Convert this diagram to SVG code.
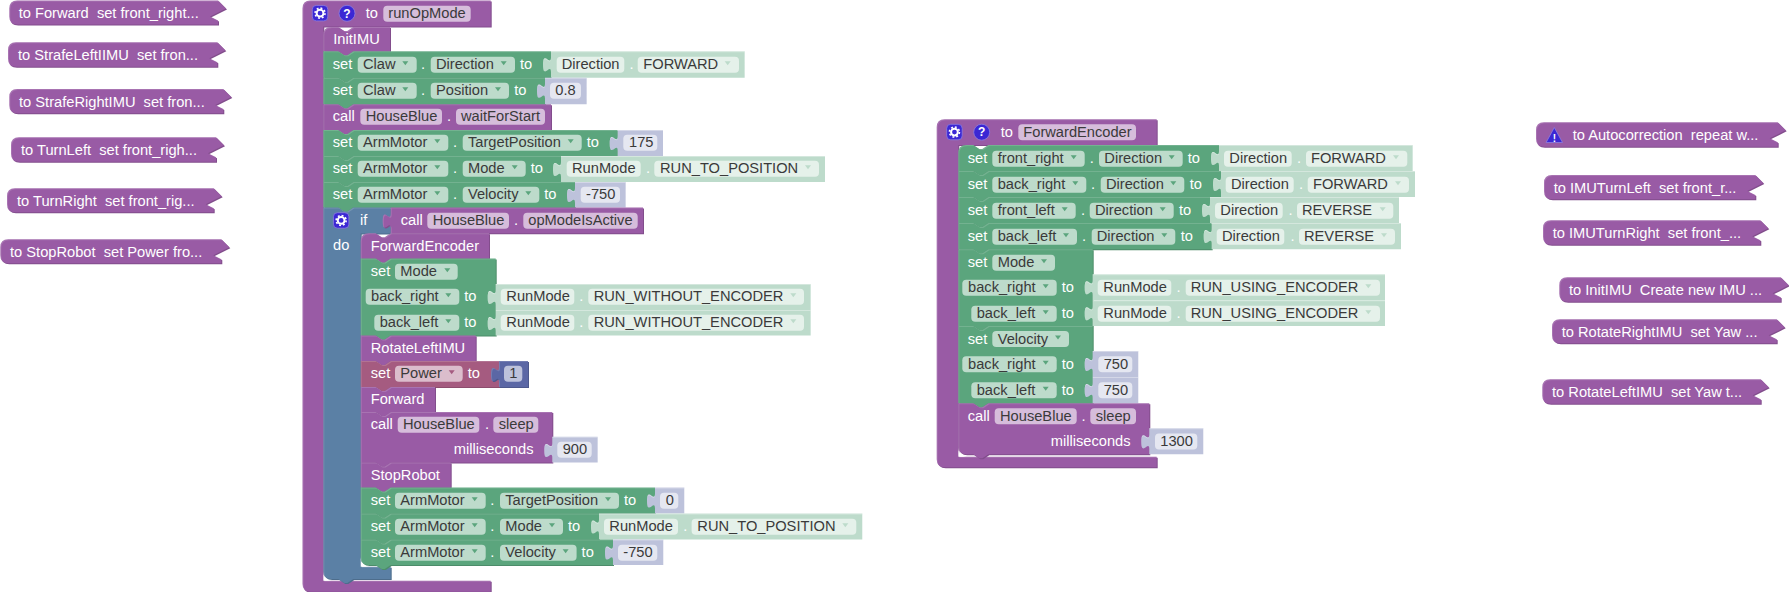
<svg xmlns="http://www.w3.org/2000/svg" width="1789" height="592" viewBox="0 0 1789 592">
<style>
text{font-family:"Liberation Sans",Arial,sans-serif;font-size:14.67px;white-space:pre}
.t{fill:#fff}.d{fill:#3a3a3a}
path.b{filter:url(#e)}
path.l,path.v{filter:url(#h)}
.p{fill:#995ba5}.g{fill:#5ba57d}.l{fill:#bddbcb}.v{fill:#bdc2db}.n{fill:#5b67a5}.r{fill:#a55b80}.u{fill:#5b80a5}
rect{height:16px;rx:4px;ry:4px}
.pp{fill:#d6bddb}.pg{fill:#bddbcb}.pl{fill:#e5f1ea}.pv{fill:#e5e7f1}.pn{fill:#bdc2db}.pr{fill:#dbbdcc}
.ag{fill:#5ba57d}.al{fill:#bddbcb}.ar{fill:#a55b80}
.ic{fill:#3b27d4;stroke:#8e7fe0;stroke-width:.8}
</style>
<defs>
<filter id="e" x="-10%" y="-10%" width="120%" height="125%" color-interpolation-filters="sRGB">
<feOffset in="SourceGraphic" dx="1" dy="1" result="o"/>
<feColorMatrix in="o" type="matrix" values=".85 0 0 0 0 0 .85 0 0 0 0 0 .85 0 0 0 0 0 1 0" result="dark"/>
<feOffset in="SourceAlpha" dx="1" dy="1" result="oa"/>
<feComposite in="SourceAlpha" in2="oa" operator="out" result="edge"/>
<feFlood flood-color="#fff" flood-opacity=".15"/>
<feComposite in2="edge" operator="in" result="hl"/>
<feMerge><feMergeNode in="dark"/><feMergeNode in="SourceGraphic"/><feMergeNode in="hl"/></feMerge>
</filter>
<filter id="h" x="-10%" y="-10%" width="120%" height="125%" color-interpolation-filters="sRGB">
<feOffset in="SourceAlpha" dx="0" dy="1" result="oa"/>
<feComposite in="SourceAlpha" in2="oa" operator="out" result="edge"/>
<feFlood flood-color="#fff" flood-opacity=".35"/>
<feComposite in2="edge" operator="in" result="hl"/>
<feMerge><feMergeNode in="SourceGraphic"/><feMergeNode in="hl"/></feMerge>
</filter>
<path id="a" d="M-3,-2h6l-3,4z"/>
<g id="gear">
<rect x="0" y="0" width="15.5" height="15.5" style="height:15.5px" fill="#3b27d4" stroke="#8e7fe0" stroke-width=".8"/>
<circle cx="7.75" cy="7.75" r="3.4" fill="none" stroke="#fff" stroke-width="2"/>
<circle cx="7.75" cy="7.75" r="5" fill="none" stroke="#fff" stroke-width="1.6" stroke-dasharray="1.9 2"/>
</g>
<g id="help"><circle r="8" class="ic"/><text x="0" y="4.2" text-anchor="middle" class="t" style="font-size:12px;font-weight:bold">?</text></g>
</defs>

<g id="stray-forward"><path class="b p" d="M17.3,.5H218l8,8-16,8 8,4V24.6H17.3q-8,0-8-8V8.5q0-8 8-8z"/><text class="t" x="18.7" y="18">to Forward  set front_right...</text></g>
<g id="stray-strafeleft"><path class="b p" d="M16,42.3H217.3l8,8-16,8 8,4v4.4H16q-8,0-8-8V50.3q0-8 8-8z"/><text class="t" x="18" y="60">to StrafeLeftIIMU  set fron...</text></g>
<g id="stray-straferight"><path class="b p" d="M17.3,89H223.3l8,8-16,8 8,4v4.3H17.3q-8,0-8-8V97q0-8 8-8z"/><text class="t" x="19" y="107">to StrafeRightIMU  set fron...</text></g>
<g id="stray-turnleft"><path class="b p" d="M19,137.3H216l8,8-16,8 8,4v4.4H19q-8,0-8-8V145.3q0-8 8-8z"/><text class="t" x="21" y="155">to TurnLeft  set front_righ...</text></g>
<g id="stray-turnright"><path class="b p" d="M15,188.3H213.7l8,8-16,8 8,4v4H15q-8,0-8-8V196.3q0-8 8-8z"/><text class="t" x="17" y="206">to TurnRight  set front_rig...</text></g>
<g id="stray-stoprobot"><path class="b p" d="M8.3,239.3H221.3l8,8-16,8 8,4v4H8.3q-8,0-8-8V247.3q0-8 8-8z"/><text class="t" x="10" y="257">to StopRobot  set Power fro...</text></g>

<g id="stray-autocorrection"><path class="b p" d="M1544,122.3H1777.7l8,8-16,8 8,4v4.4H1544q-8,0-8-8V130.3q0-8 8-8z"/>
<path d="M1554.3,127.5l8.2,15h-16.4z" fill="#3b27d4" stroke="#8e7fe0" stroke-width=".8" stroke-linejoin="round"/><text class="t" x="1554.3" y="141.5" text-anchor="middle" style="font-size:10px;font-weight:bold">!</text>
<text class="t" x="1572.7" y="140">to Autocorrection  repeat w...</text></g>
<g id="stray-imuturnleft"><path class="b p" d="M1552,175H1755.3l8,8-16,8 8,4v4.3H1552q-8,0-8-8V183q0-8 8-8z"/><text class="t" x="1553.7" y="193">to IMUTurnLeft  set front_r...</text></g>
<g id="stray-imuturnright"><path class="b p" d="M1551,220.3H1760.3l8,8-16,8 8,4v4.4H1551q-8,0-8-8V228.3q0-8 8-8z"/><text class="t" x="1552.7" y="238">to IMUTurnRight  set front_...</text></g>
<g id="stray-initimu"><path class="b p" d="M1567.3,277.3H1780.7l8,8-16,8 8,4v4.4H1567.3q-8,0-8-8V285.3q0-8 8-8z"/><text class="t" x="1569" y="295">to InitIMU  Create new IMU ...</text></g>
<g id="stray-rotateright"><path class="b p" d="M1560,319.3H1776.7l8,8-16,8 8,4v4H1560q-8,0-8-8V327.3q0-8 8-8z"/><text class="t" x="1561.7" y="337">to RotateRightIMU  set Yaw ...</text></g>
<g id="stray-rotateleft"><path class="b p" d="M1550.3,379.3H1760.7l8,8-16,8 8,4v4.4H1550.3q-8,0-8-8V387.3q0-8 8-8z"/><text class="t" x="1552" y="397">to RotateLeftIMU  set Yaw t...</text></g>

<g id="func-runOpMode">
<path class="b p" d="M310.5,.5H490.7V26.5H323.3V580.7H490.7V591.7H310.5q-8,0-8-8V8.5q0-8 8-8z"/>
<path d="M323.3,571V580.7H331.3Q323.3,580 323.3,571z" fill="#fff"/>
<use href="#gear" x="312.3" y="5.4"/><use href="#help" x="347" y="13.3"/>
<text class="t" x="365.7" y="18">to</text>
<rect class="pp" x="383.3" y="5.7" width="87.4"/><text class="d" x="388.3" y="18">runOpMode</text>

<g id="m-initimu"><path class="b p" d="M323.3,35q0-8 8-8h7l6,4h3l6-4H390V51.3H353.3l-6,4h-3l-6-4H323.3z"/><text class="t" x="333.3" y="44">InitIMU</text></g>

<g id="m-claw-direction"><path class="b g" d="M323.3,51.3h15l6,4h3l6-4H551V77.7H353.3l-6,4h-3l-6-4H323.3z"/>
<path class="b l" d="M551,51.3H744.7V77.7H551V72.3c0-10-8,8-8-7.5s8,2.5 8-7.5z"/>
<text class="t" x="332.7" y="69">set</text>
<rect class="pg" x="357.7" y="56.7" width="59"/><text class="d" x="363" y="69">Claw</text><use href="#a" class="ag" x="405.3" y="63.3"/>
<text class="t" x="421" y="69">.</text>
<rect class="pg" x="430.7" y="56.7" width="84.3"/><text class="d" x="436" y="69">Direction</text><use href="#a" class="ag" x="503.7" y="63.3"/>
<text class="t" x="520" y="69">to</text>
<rect class="pl" x="556.7" y="56.7" width="67.6"/><text class="d" x="561.7" y="69">Direction</text><text class="t" x="629.5" y="69">.</text>
<rect class="pl" x="637.7" y="56.7" width="101.3"/><text class="d" x="643.3" y="69">FORWARD</text><use href="#a" class="al" x="727.7" y="63.3"/></g>

<g id="m-claw-position"><path class="b g" d="M323.3,77.7h15l6,4h3l6-4H545V104.3H353.3l-6,4h-3l-6-4H323.3z"/>
<path class="b v" d="M545,77.7H586.7V104.3H545V98.7c0-10-8,8-8-7.5s8,2.5 8-7.5z"/>
<text class="t" x="332.7" y="95">set</text>
<rect class="pg" x="357.7" y="82.7" width="59"/><text class="d" x="363" y="95">Claw</text><use href="#a" class="ag" x="405.3" y="89.3"/>
<text class="t" x="421" y="95">.</text>
<rect class="pg" x="430.7" y="82.7" width="78.3"/><text class="d" x="436" y="95">Position</text><use href="#a" class="ag" x="498" y="89.3"/>
<text class="t" x="514.3" y="95">to</text>
<rect class="pv" x="550" y="82.7" width="31"/><text class="d" x="555.3" y="95">0.8</text></g>

<g id="m-waitforstart"><path class="b p" d="M323.3,104.3h15l6,4h3l6-4H551V130H353.3l-6,4h-3l-6-4H323.3z"/>
<text class="t" x="332.7" y="121">call</text>
<rect class="pp" x="360.3" y="108.7" width="81.7"/><text class="d" x="365.7" y="121">HouseBlue</text><text class="t" x="447" y="121">.</text>
<rect class="pp" x="456" y="108.7" width="89"/><text class="d" x="461" y="121">waitForStart</text></g>

<g id="m-arm-target"><path class="b g" d="M323.3,130h15l6,4h3l6-4H617.7V156H353.3l-6,4h-3l-6-4H323.3z"/>
<path class="b v" d="M617.7,130H663V156H617.7V151c0-10-8,8-8-7.5s8,2.5 8-7.5z"/>
<text class="t" x="332.7" y="147">set</text>
<rect class="pg" x="357.7" y="134.7" width="90.6"/><text class="d" x="363" y="147">ArmMotor</text><use href="#a" class="ag" x="437.3" y="141.3"/>
<text class="t" x="453" y="147">.</text>
<rect class="pg" x="462.7" y="134.7" width="119"/><text class="d" x="468" y="147">TargetPosition</text><use href="#a" class="ag" x="570.7" y="141.3"/>
<text class="t" x="586.7" y="147">to</text>
<rect class="pv" x="623.3" y="134.7" width="34"/><text class="d" x="629" y="147">175</text></g>

<g id="m-arm-mode"><path class="b g" d="M323.3,156h15l6,4h3l6-4H561V182H353.3l-6,4h-3l-6-4H323.3z"/>
<path class="b l" d="M561,156H825V182H561V177c0-10-8,8-8-7.5s8,2.5 8-7.5z"/>
<text class="t" x="332.7" y="173">set</text>
<rect class="pg" x="357.7" y="160.7" width="90.6"/><text class="d" x="363" y="173">ArmMotor</text><use href="#a" class="ag" x="437.3" y="167.3"/>
<text class="t" x="453" y="173">.</text>
<rect class="pg" x="462.7" y="160.7" width="63"/><text class="d" x="468" y="173">Mode</text><use href="#a" class="ag" x="514.7" y="167.3"/>
<text class="t" x="530.7" y="173">to</text>
<rect class="pl" x="566.7" y="160.7" width="74"/><text class="d" x="572" y="173">RunMode</text><text class="t" x="646" y="173">.</text>
<rect class="pl" x="654.3" y="160.7" width="164.7"/><text class="d" x="660" y="173">RUN_TO_POSITION</text><use href="#a" class="al" x="808" y="167.3"/></g>

<g id="m-arm-velocity"><path class="b g" d="M323.3,182h15l6,4h3l6-4H575V207.5H353.3l-6,4h-3l-6-4H323.3z"/>
<path class="b v" d="M575,182H625.7V207.5H575V203c0-10-8,8-8-7.5s8,2.5 8-7.5z"/>
<text class="t" x="332.7" y="199">set</text>
<rect class="pg" x="357.7" y="186.7" width="90.6"/><text class="d" x="363" y="199">ArmMotor</text><use href="#a" class="ag" x="437.3" y="193.3"/>
<text class="t" x="453" y="199">.</text>
<rect class="pg" x="462.7" y="186.7" width="76.6"/><text class="d" x="468" y="199">Velocity</text><use href="#a" class="ag" x="528.3" y="193.3"/>
<text class="t" x="544.3" y="199">to</text>
<rect class="pv" x="580.7" y="186.7" width="39.3"/><text class="d" x="586" y="199">-750</text></g>

<g id="m-if">
<path class="b u" d="M323.3,207.5h15l6,4h3l6-4H390.7V233.5H360.7V566.7H390.7V579H353.3l-6,4h-3l-6-4H331.3q-8,0-8-8z"/>
<path d="M360.7,557V566.7H368.7Q360.7,566 360.7,557z" fill="#fff"/>
<path class="b p" d="M390.7,207.5H643V233.3H390.7V228.5c0-10-8,8-8-7.5s8,2.5 8-7.5z"/>
<use href="#gear" x="333.4" y="212.7"/>
<text class="t" x="360" y="225">if</text><text class="t" x="333" y="250">do</text>
<text class="t" x="400.7" y="225">call</text>
<rect class="pp" x="427.3" y="212.7" width="81.7"/><text class="d" x="432.7" y="225">HouseBlue</text><text class="t" x="514" y="225">.</text>
<rect class="pp" x="523.3" y="212.7" width="114.4"/><text class="d" x="528.3" y="225">opModeIsActive</text>

<g id="m-forwardencoder"><path class="b p" d="M360.7,241.3q0-8 8-8h7l6,4h3l6-4H489V258.5H390.7l-6,4h-3l-6-4H360.7z"/><text class="t" x="370.7" y="251">ForwardEncoder</text></g>

<g id="m-setmode"><path class="b g" d="M360.7,258.5h15l6,4h3l6-4H495.7V335.5H390.7l-6,4h-3l-6-4H360.7z"/>
<path class="b l" d="M495.7,284H810.7V310H495.7V305c0-10-8,8-8-7.5s8,2.5 8-7.5z"/>
<path class="b l" d="M495.7,310H810.7V335.5H495.7V331c0-10-8,8-8-7.5s8,2.5 8-7.5z"/>
<text class="t" x="370.7" y="276">set</text>
<rect class="pg" x="395" y="263.7" width="62.7"/><text class="d" x="400.3" y="276">Mode</text><use href="#a" class="ag" x="447.3" y="270.3"/>
<rect class="pg" x="365.7" y="288.7" width="93.6"/><text class="d" x="371" y="301">back_right</text><use href="#a" class="ag" x="448.3" y="295.3"/>
<text class="t" x="464.3" y="301">to</text>
<rect class="pl" x="500.7" y="288.7" width="73.6"/><text class="d" x="506.3" y="301">RunMode</text><text class="t" x="579.3" y="301">.</text>
<rect class="pl" x="588.3" y="288.7" width="215.7"/><text class="d" x="593.7" y="301">RUN_WITHOUT_ENCODER</text><use href="#a" class="al" x="793.3" y="295.3"/>
<rect class="pg" x="374.3" y="314.7" width="85"/><text class="d" x="379.7" y="327">back_left</text><use href="#a" class="ag" x="448.3" y="321.3"/>
<text class="t" x="464.3" y="327">to</text>
<rect class="pl" x="500.7" y="314.7" width="73.6"/><text class="d" x="506.3" y="327">RunMode</text><text class="t" x="579.3" y="327">.</text>
<rect class="pl" x="588.3" y="314.7" width="215.7"/><text class="d" x="593.7" y="327">RUN_WITHOUT_ENCODER</text><use href="#a" class="al" x="793.3" y="321.3"/></g>

<g id="m-rotateleft"><path class="b p" d="M360.7,335.5h15l6,4h3l6-4H475.7V361H390.7l-6,4h-3l-6-4H360.7z"/><text class="t" x="370.7" y="353">RotateLeftIMU</text></g>

<g id="m-setpower"><path class="b r" d="M360.7,361h15l6,4h3l6-4H499V387H390.7l-6,4h-3l-6-4H360.7z"/>
<path class="b n" d="M499,361H528V387H499V382c0-10-8,8-8-7.5s8,2.5 8-7.5z"/>
<text class="t" x="370.7" y="378">set</text>
<rect class="pr" x="395" y="365.7" width="67.7"/><text class="d" x="400.3" y="378">Power</text><use href="#a" class="ar" x="451.7" y="372.3"/>
<text class="t" x="467.7" y="378">to</text>
<rect class="pn" x="504" y="365.7" width="18.3"/><text class="d" x="509.3" y="378">1</text></g>

<g id="m-forward"><path class="b p" d="M360.7,387h15l6,4h3l6-4H435V412H390.7l-6,4h-3l-6-4H360.7z"/><text class="t" x="370.7" y="404">Forward</text></g>

<g id="m-sleep"><path class="b p" d="M360.7,412h15l6,4h3l6-4H552.3V462.5H390.7l-6,4h-3l-6-4H360.7z"/>
<path class="b v" d="M552.3,436.7H597.7V462.5H552.3V458c0-10-8,8-8-7.5s8,2.5 8-7.5z"/>
<text class="t" x="370.7" y="429">call</text>
<rect class="pp" x="397.7" y="416.7" width="81.6"/><text class="d" x="403" y="429">HouseBlue</text><text class="t" x="485" y="429">.</text>
<rect class="pp" x="493.3" y="416.7" width="45"/><text class="d" x="498.7" y="429">sleep</text>
<text class="t" x="453.7" y="454">milliseconds</text>
<rect class="pv" x="557.3" y="441.7" width="34.4"/><text class="d" x="562.7" y="454">900</text></g>

<g id="m-stoprobot"><path class="b p" d="M360.7,462.5h15l6,4h3l6-4H450.7V487.5H390.7l-6,4h-3l-6-4H360.7z"/><text class="t" x="370.7" y="480">StopRobot</text></g>

<g id="m-arm-target2"><path class="b g" d="M360.7,487.5h15l6,4h3l6-4H655V513.5H390.7l-6,4h-3l-6-4H360.7z"/>
<path class="b v" d="M655,487.5H684.3V513.5H655V508.5c0-10-8,8-8-7.5s8,2.5 8-7.5z"/>
<text class="t" x="370.7" y="505">set</text>
<rect class="pg" x="395" y="492.7" width="90.7"/><text class="d" x="400.3" y="505">ArmMotor</text><use href="#a" class="ag" x="474.7" y="499.3"/>
<text class="t" x="490.3" y="505">.</text>
<rect class="pg" x="500" y="492.7" width="119"/><text class="d" x="505.3" y="505">TargetPosition</text><use href="#a" class="ag" x="608" y="499.3"/>
<text class="t" x="624" y="505">to</text>
<rect class="pv" x="660" y="492.7" width="18.3"/><text class="d" x="665.7" y="505">0</text></g>

<g id="m-arm-mode2"><path class="b g" d="M360.7,513.5h15l6,4h3l6-4H599V539.5H390.7l-6,4h-3l-6-4H360.7z"/>
<path class="b l" d="M599,513.5H862.3V539.5H599V534.5c0-10-8,8-8-7.5s8,2.5 8-7.5z"/>
<text class="t" x="370.7" y="531">set</text>
<rect class="pg" x="395" y="518.7" width="90.7"/><text class="d" x="400.3" y="531">ArmMotor</text><use href="#a" class="ag" x="474.7" y="525.3"/>
<text class="t" x="490.3" y="531">.</text>
<rect class="pg" x="500" y="518.7" width="63"/><text class="d" x="505.3" y="531">Mode</text><use href="#a" class="ag" x="552" y="525.3"/>
<text class="t" x="568" y="531">to</text>
<rect class="pl" x="604" y="518.7" width="74"/><text class="d" x="609.3" y="531">RunMode</text><text class="t" x="683.3" y="531">.</text>
<rect class="pl" x="691.6" y="518.7" width="164.7"/><text class="d" x="697.3" y="531">RUN_TO_POSITION</text><use href="#a" class="al" x="845.3" y="525.3"/></g>

<g id="m-arm-velocity2"><path class="b g" d="M360.7,539.5h15l6,4h3l6-4H613V565H390.7l-6,4h-3l-6-4H368.7q-8,0-8-8z"/>
<path class="b v" d="M613,539.5H663.3V565H613V560.5c0-10-8,8-8-7.5s8,2.5 8-7.5z"/>
<text class="t" x="370.7" y="557">set</text>
<rect class="pg" x="395" y="544.7" width="90.7"/><text class="d" x="400.3" y="557">ArmMotor</text><use href="#a" class="ag" x="474.7" y="551.3"/>
<text class="t" x="490.3" y="557">.</text>
<rect class="pg" x="500" y="544.7" width="76.6"/><text class="d" x="505.3" y="557">Velocity</text><use href="#a" class="ag" x="565.6" y="551.3"/>
<text class="t" x="581.6" y="557">to</text>
<rect class="pv" x="618" y="544.7" width="39.3"/><text class="d" x="623.3" y="557">-750</text></g>
</g>
</g>

<g id="func-ForwardEncoder">
<path class="b p" d="M944.7,119.3H1156.7V145H958.3V456.7H1156.7V467.3H944.7q-8,0-8-8V127.3q0-8 8-8z"/>
<path d="M958.3,447V456.7H966.3Q958.3,456 958.3,447z" fill="#fff"/>
<use href="#gear" x="946.7" y="124.3"/><use href="#help" x="981.7" y="132.2"/>
<text class="t" x="1000.7" y="137">to</text>
<rect class="pp" x="1018.3" y="124.3" width="117.7"/><text class="d" x="1023.3" y="137">ForwardEncoder</text>

<g id="f-front-right"><path class="b g" d="M958.3,153q0-8 8-8h7l6,4h3l6-4H1219V171H988.3l-6,4h-3l-6-4H958.3z"/>
<path class="b l" d="M1219,145H1412.7V171H1219V166c0-10-8,8-8-7.5s8,2.5 8-7.5z"/>
<text class="t" x="967.7" y="163">set</text>
<rect class="pg" x="992.3" y="150.7" width="92.4"/><text class="d" x="997.7" y="163">front_right</text><use href="#a" class="ag" x="1073.7" y="157.3"/>
<text class="t" x="1089.7" y="163">.</text>
<rect class="pg" x="1099" y="150.7" width="83.7"/><text class="d" x="1104.3" y="163">Direction</text><use href="#a" class="ag" x="1171.7" y="157.3"/>
<text class="t" x="1187.7" y="163">to</text>
<rect class="pl" x="1224" y="150.7" width="67.7"/><text class="d" x="1229.3" y="163">Direction</text><text class="t" x="1297" y="163">.</text>
<rect class="pl" x="1306" y="150.7" width="101.3"/><text class="d" x="1311" y="163">FORWARD</text><use href="#a" class="al" x="1396" y="157.3"/></g>

<g id="f-back-right"><path class="b g" d="M958.3,171h15l6,4h3l6-4H1221V197H988.3l-6,4h-3l-6-4H958.3z"/>
<path class="b l" d="M1221,171H1415V197H1221V192c0-10-8,8-8-7.5s8,2.5 8-7.5z"/>
<text class="t" x="967.7" y="189">set</text>
<rect class="pg" x="992.3" y="176.7" width="94"/><text class="d" x="997.7" y="189">back_right</text><use href="#a" class="ag" x="1075.3" y="183.3"/>
<text class="t" x="1091" y="189">.</text>
<rect class="pg" x="1100.7" y="176.7" width="83.6"/><text class="d" x="1106" y="189">Direction</text><use href="#a" class="ag" x="1173.3" y="183.3"/>
<text class="t" x="1189.7" y="189">to</text>
<rect class="pl" x="1225.7" y="176.7" width="68"/><text class="d" x="1231" y="189">Direction</text><text class="t" x="1299" y="189">.</text>
<rect class="pl" x="1307.7" y="176.7" width="101.3"/><text class="d" x="1313" y="189">FORWARD</text><use href="#a" class="al" x="1398" y="183.3"/></g>

<g id="f-front-left"><path class="b g" d="M958.3,197h15l6,4h3l6-4H1210V223H988.3l-6,4h-3l-6-4H958.3z"/>
<path class="b l" d="M1210,197H1399V223H1210V218c0-10-8,8-8-7.5s8,2.5 8-7.5z"/>
<text class="t" x="967.7" y="215">set</text>
<rect class="pg" x="992.3" y="202.7" width="83.4"/><text class="d" x="997.7" y="215">front_left</text><use href="#a" class="ag" x="1064.7" y="209.3"/>
<text class="t" x="1081" y="215">.</text>
<rect class="pg" x="1089.7" y="202.7" width="84"/><text class="d" x="1095" y="215">Direction</text><use href="#a" class="ag" x="1162.7" y="209.3"/>
<text class="t" x="1179" y="215">to</text>
<rect class="pl" x="1215" y="202.7" width="67.7"/><text class="d" x="1220.3" y="215">Direction</text><text class="t" x="1288.5" y="215">.</text>
<rect class="pl" x="1297" y="202.7" width="96.3"/><text class="d" x="1302" y="215">REVERSE</text><use href="#a" class="al" x="1382.7" y="209.3"/></g>

<g id="f-back-left"><path class="b g" d="M958.3,223h15l6,4h3l6-4H1211.7V249.3H988.3l-6,4h-3l-6-4H958.3z"/>
<path class="b l" d="M1211.7,223H1401V249.3H1211.7V244c0-10-8,8-8-7.5s8,2.5 8-7.5z"/>
<text class="t" x="967.7" y="241">set</text>
<rect class="pg" x="992.3" y="228.7" width="84.7"/><text class="d" x="997.7" y="241">back_left</text><use href="#a" class="ag" x="1066" y="235.3"/>
<text class="t" x="1082" y="241">.</text>
<rect class="pg" x="1091.7" y="228.7" width="83.6"/><text class="d" x="1096.7" y="241">Direction</text><use href="#a" class="ag" x="1164.3" y="235.3"/>
<text class="t" x="1180.7" y="241">to</text>
<rect class="pl" x="1216.7" y="228.7" width="67.6"/><text class="d" x="1222" y="241">Direction</text><text class="t" x="1290.5" y="241">.</text>
<rect class="pl" x="1299" y="228.7" width="96"/><text class="d" x="1304" y="241">REVERSE</text><use href="#a" class="al" x="1384" y="235.3"/></g>

<g id="f-setmode"><path class="b g" d="M958.3,249.3h15l6,4h3l6-4H1092.7V326H988.3l-6,4h-3l-6-4H958.3z"/>
<path class="b l" d="M1092.7,274.3H1385V300.3H1092.7V295.3c0-10-8,8-8-7.5s8,2.5 8-7.5z"/>
<path class="b l" d="M1092.7,300.3H1385V326H1092.7V321.3c0-10-8,8-8-7.5s8,2.5 8-7.5z"/>
<text class="t" x="967.7" y="267">set</text>
<rect class="pg" x="992.3" y="254.7" width="62.7"/><text class="d" x="997.7" y="267">Mode</text><use href="#a" class="ag" x="1044" y="261.3"/>
<rect class="pg" x="962.3" y="279.7" width="94.4"/><text class="d" x="968" y="292">back_right</text><use href="#a" class="ag" x="1045.7" y="286.3"/>
<text class="t" x="1061.7" y="292">to</text>
<rect class="pl" x="1097.7" y="279.7" width="73.6"/><text class="d" x="1103.3" y="292">RunMode</text><text class="t" x="1176.5" y="292">.</text>
<rect class="pl" x="1185.7" y="279.7" width="194.3"/><text class="d" x="1190.7" y="292">RUN_USING_ENCODER</text><use href="#a" class="al" x="1368.3" y="286.3"/>
<rect class="pg" x="971.3" y="305.7" width="85.4"/><text class="d" x="976.7" y="318">back_left</text><use href="#a" class="ag" x="1045.7" y="312.3"/>
<text class="t" x="1061.7" y="318">to</text>
<rect class="pl" x="1097.7" y="305.7" width="73.6"/><text class="d" x="1103.3" y="318">RunMode</text><text class="t" x="1176.5" y="318">.</text>
<rect class="pl" x="1185.7" y="305.7" width="194.3"/><text class="d" x="1190.7" y="318">RUN_USING_ENCODER</text><use href="#a" class="al" x="1368.3" y="312.3"/></g>

<g id="f-setvelocity"><path class="b g" d="M958.3,326h15l6,4h3l6-4H1092.7V403.3H988.3l-6,4h-3l-6-4H958.3z"/>
<path class="b v" d="M1092.7,351H1138.3V377H1092.7V372c0-10-8,8-8-7.5s8,2.5 8-7.5z"/>
<path class="b v" d="M1092.7,377H1138.3V403.3H1092.7V398c0-10-8,8-8-7.5s8,2.5 8-7.5z"/>
<text class="t" x="967.7" y="343.5">set</text>
<rect class="pg" x="992.3" y="331" width="76.7"/><text class="d" x="997.7" y="343.5">Velocity</text><use href="#a" class="ag" x="1058" y="337.6"/>
<rect class="pg" x="962.3" y="356.2" width="94.4"/><text class="d" x="968" y="368.5">back_right</text><use href="#a" class="ag" x="1045.7" y="362.8"/>
<text class="t" x="1061.7" y="368.5">to</text>
<rect class="pv" x="1098.3" y="356.2" width="34"/><text class="d" x="1103.7" y="368.5">750</text>
<rect class="pg" x="971.3" y="382.2" width="85.4"/><text class="d" x="976.7" y="394.5">back_left</text><use href="#a" class="ag" x="1045.7" y="388.8"/>
<text class="t" x="1061.7" y="394.5">to</text>
<rect class="pv" x="1098.3" y="382.2" width="34"/><text class="d" x="1103.7" y="394.5">750</text></g>

<g id="f-sleep"><path class="b p" d="M958.3,403.3h15l6,4h3l6-4H1149.3V454.3H988.3l-6,4h-3l-6-4H966.3q-8,0-8-8z"/>
<path class="b v" d="M1149.3,428.3H1203.3V454.3H1149.3V449.3c0-10-8,8-8-7.5s8,2.5 8-7.5z"/>
<text class="t" x="967.7" y="420.5">call</text>
<rect class="pp" x="994.7" y="408.2" width="82"/><text class="d" x="1000" y="420.5">HouseBlue</text><text class="t" x="1081.5" y="420.5">.</text>
<rect class="pp" x="1090.3" y="408.2" width="45.7"/><text class="d" x="1095.7" y="420.5">sleep</text>
<text class="t" x="1050.7" y="446">milliseconds</text>
<rect class="pv" x="1155" y="433.5" width="42.3"/><text class="d" x="1160.3" y="446">1300</text></g>
</g>
</svg>
